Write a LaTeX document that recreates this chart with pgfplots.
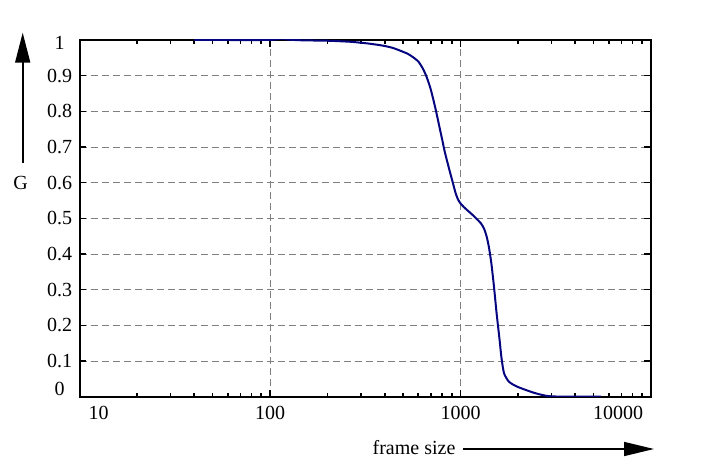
\documentclass[border=0pt]{standalone}
\usepackage{fontspec}
\setmainfont{Liberation Serif}
\usepackage{pgfplots}
\pgfplotsset{compat=1.18}
\usetikzlibrary{arrows.meta}
\definecolor{curveblue}{RGB}{5,5,128}

\begin{document}
\begin{tikzpicture}
\useasboundingbox (0,0) rectangle (351pt,233.5pt);
\begin{axis}[
    at={(39.75pt,35.15pt)}, anchor=south west,
    scale only axis, width=285.75pt, height=178.35pt,
    xmode=log, xmin=10, xmax=10000, ymin=0, ymax=1,
    xtick={10,100,1000,10000},
    xticklabels={\makebox[0pt][l]{\hspace{4.5pt}10},100,1000,\makebox[0pt][r]{10000\hspace{4pt}}},
    ytick={0,0.1,0.2,0.3,0.4,0.5,0.6,0.7,0.8,0.9,1},
    yticklabels={\raisebox{4pt}[\height][0pt]{0},0.1,0.2,0.3,0.4,0.5,0.6,0.7,0.8,0.9,\raisebox{-1.5pt}[\height][0pt]{1}},
    yticklabel style={anchor=center, xshift=-10pt},
    xticklabel style={yshift=-1pt},
    /pgf/number format/assume math mode=true,
    tick label style={font=\rmfamily},
    tick align=inside,
    major tick length=3.3pt, minor tick length=2pt,
    every tick/.style={black, line width=0.8pt},
    axis line style={line width=1pt},
    grid=major,
    major grid style={gray, line width=0.5pt, dash pattern=on 3.5pt off 2pt},
]
\addplot[curveblue, line width=1pt, smooth, tension=0.4] coordinates {
    (40,1.000) (60,1.000) (90,1.000) (105,1.001) (115,1.004) (125,1.001)
    (150,0.999) (200,0.998) (264,0.995) (330,0.990) (393,0.984) (440,0.978)
    (483,0.970) (530,0.961) (566,0.951) (600,0.940) (631,0.922) (660,0.900)
    (695,0.865) (738,0.809) (785,0.743) (802,0.720) (824,0.690) (851,0.660)
    (875,0.635) (904,0.607) (941,0.572) (970,0.553) (1000,0.542) (1040,0.532)
    (1084,0.523) (1150,0.511) (1223,0.497) (1280,0.486) (1327,0.472)
    (1370,0.450) (1409,0.420) (1452,0.374) (1499,0.308) (1547,0.234)
    (1604,0.159) (1640,0.110) (1692,0.066) (1796,0.042) (1987,0.028)
    (2430,0.011) (2860,0.002) (3500,0.000) (5460,0.000)
};
\end{axis}
% axis arrows
\draw[line width=0.8pt, -{Triangle[length=15pt,width=7.5pt]}] (11.35pt,152pt) -- (11.35pt,217.15pt);
\node at (10.25pt,142pt) {G};
\draw[line width=0.8pt, -{Triangle[length=15pt,width=7pt]}] (231.5pt,9pt) -- (327pt,9pt);
\node at (207pt,9.8pt) {frame size};
\end{tikzpicture}
\end{document}
